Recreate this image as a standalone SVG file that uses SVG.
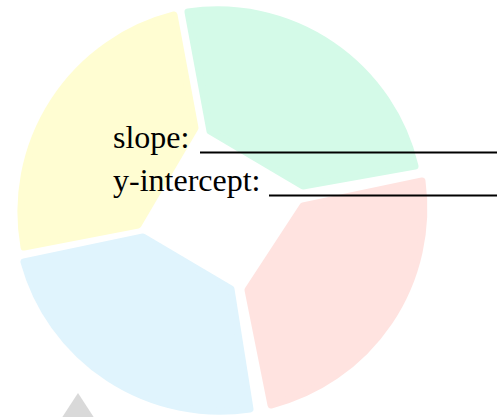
<svg xmlns="http://www.w3.org/2000/svg" width="503" height="417" viewBox="0 0 503 417">
<style>
.seg{stroke-width:7;stroke-linejoin:round}
.t{font-family:"Liberation Serif","Times New Roman",serif;font-size:32px;fill:#000}
.u{stroke:#000;stroke-width:2.2}
</style>
<rect width="503" height="417" fill="#fff"/>
<g id="yellow"><path class="seg" fill="#FFFDD2" stroke="#FFFDD2" d="M24,247 A203,203 0 0 1 174,15 L195,128 L138,225 Z"/></g>
<g id="green"><path class="seg" fill="#D4FAE8" stroke="#D4FAE8" d="M188,12 A203,203 0 0 1 415,166 L303,186 L210,131 Z"/></g>
<g id="red"><path class="seg" fill="#FFE3E0" stroke="#FFE3E0" d="M422,181 A203,203 0 0 1 271,405 L248,290 L303,206 Z"/></g>
<g id="blue"><path class="seg" fill="#E0F4FD" stroke="#E0F4FD" d="M250,409 A203,203 0 0 1 24,262 L143,237 L231,289 Z"/></g>
<g id="triangle"><polygon points="78,393 50,436 106,436" fill="#D9D9D9"/></g>
<g id="labels">
<text class="t" x="113" y="148">slope:</text>
<line class="u" x1="200" y1="152.5" x2="497" y2="152.5"/>
<text class="t" x="113" y="191">y-intercept:</text>
<line class="u" x1="269" y1="195.5" x2="497" y2="195.5"/>
</g>
<g id="connectors"></g>
</svg>
